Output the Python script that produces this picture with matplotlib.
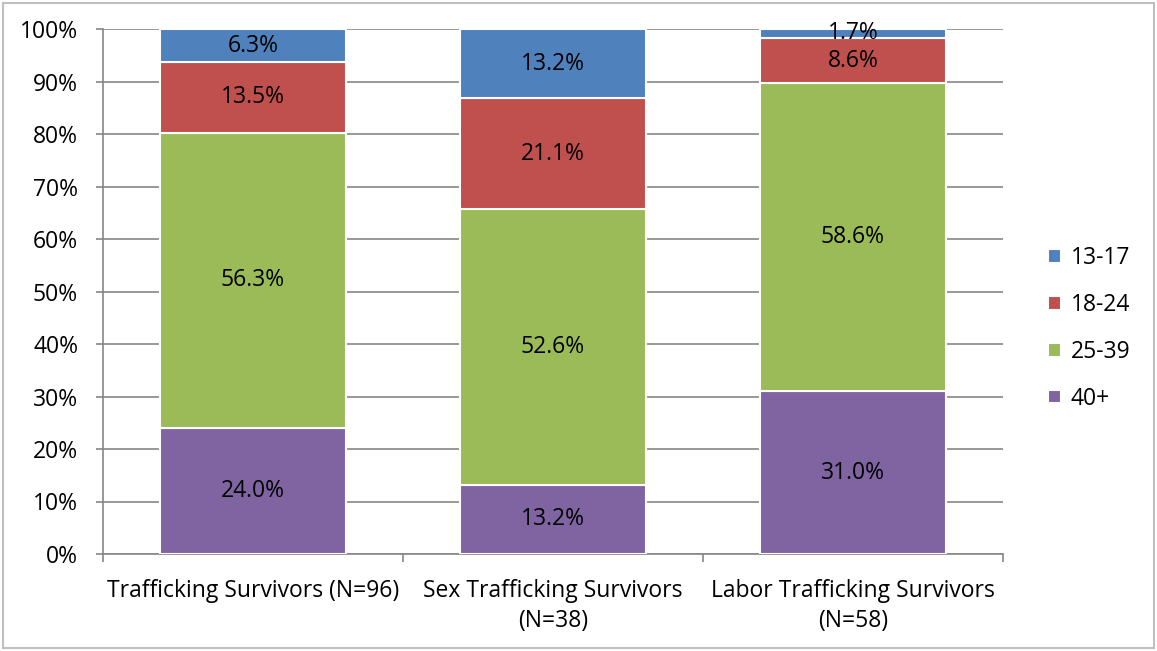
import numpy as np
import matplotlib.pyplot as plt
from matplotlib.patches import Rectangle

# ///---- datos ----///
categorias = ["Trafficking Survivors (N=96)", "Sex Trafficking Survivors\n(N=38)",
              "Labor Trafficking Survivors\n(N=58)"]
grupos = ["13-17", "18-24", "25-39", "40+"]
edad_40 = [24.0, 13.2, 31.0]
edad_25_39 = [56.3, 52.6, 58.6]
edad_18_24 = [13.5, 21.1, 8.6]
edad_13_17 = [6.3, 13.2, 1.7]
colores = ["#4F81BD", "#C0504D", "#9BBB59", "#8064A2"]

plt.rcParams['font.family'] = ['Open Sans', 'DejaVu Sans']
fs = 16.5

fig = plt.figure(figsize=(11.57, 6.51), dpi=100)
ax = fig.add_axes([103/1157, 1-554/651, 900/1157, 525/651])

# apilado de abajo hacia arriba (100%)
series = [edad_40, edad_25_39, edad_18_24, edad_13_17]
nombres = grupos[::-1]
cols = colores[::-1]
x = np.arange(len(categorias))
tot = np.sum(series, axis=0)
base = np.zeros(len(categorias))
barras = {}
for vals, nom, col in zip(series, nombres, cols):
    h = np.array(vals) / tot * 100
    b = ax.bar(x, h, 0.62, bottom=base, color=col, edgecolor='white',
               linewidth=1.5, label=nom, zorder=3)
    for xi, bi, hi, v in zip(x, base, h, vals):
        ax.text(xi, bi + hi/2, f"{v:.1f}%", ha='center', va='center',
                fontsize=fs, color='black', zorder=4)
    barras[nom] = b
    base += h

ax.set_xlim(-0.5, 2.5)
ax.set_ylim(0, 100)
ax.set_yticks(np.arange(0, 101, 10))
ax.set_yticklabels([f"{v}%" for v in range(0, 101, 10)], fontsize=fs)
ax.yaxis.grid(True, color='#868686', linewidth=1.2, zorder=0)
ax.set_xticks(x)
ax.set_xticklabels(categorias, fontsize=fs, linespacing=1.35)
ax.set_xticks([-0.5, 0.5, 1.5, 2.5], minor=True)
ax.tick_params(axis='x', which='major', length=0, pad=18)
ax.tick_params(axis='x', which='minor', length=6, color='#868686', width=1.2)
ax.tick_params(axis='y', length=5, color='#868686', width=1.2, pad=13)
for s in ['top', 'right']:
    ax.spines[s].set_visible(False)
for s in ['left', 'bottom']:
    ax.spines[s].set_color('#868686')
    ax.spines[s].set_linewidth(1.2)

handles = [barras[g] for g in grupos]
ax.legend(handles, grupos, loc='center left', bbox_to_anchor=(1.027, 0.43),
          frameon=False, fontsize=fs, handlelength=0.55, handleheight=0.55,
          handletextpad=0.45, labelspacing=1.0)

# marco de la figura
fig.patches.append(Rectangle((0.003, 0.004), 0.994, 0.992, transform=fig.transFigure,
                             fill=False, edgecolor='#BFBFBF', linewidth=1.5))

fig.savefig("out.png", dpi=100)
